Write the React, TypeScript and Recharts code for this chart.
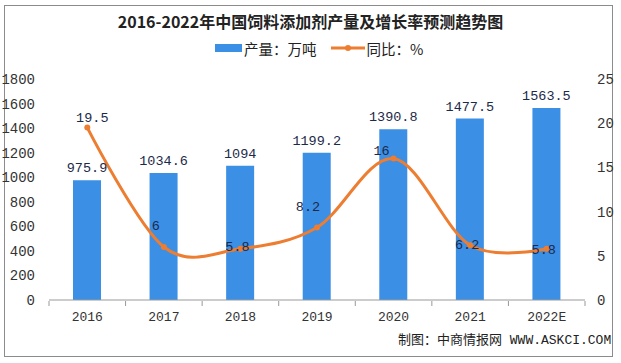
import React from "react";
import { ComposedChart, Bar, Line, XAxis, YAxis, LabelList } from "recharts";

const years = ["2016", "2017", "2018", "2019", "2020", "2021", "2022E"];
const output = [975.9, 1034.6, 1094, 1199.2, 1390.8, 1477.5, 1563.5];
const growth = [19.5, 6, 5.8, 8.2, 16, 6.2, 5.8];
const outputTicks = [0, 200, 400, 600, 800, 1000, 1200, 1400, 1600, 1800];
const growthTicks = [0, 5, 10, 15, 20, 25];

// small nudges for the growth labels, in px
const growthLabelShift = [
  [5, -9],
  [-8, -20],
  [-3, -1],
  [-9, -20],
  [-12, -7],
  [-3, 0],
  [-3, 2],
];

const data = years.map((year, i) => ({ year, output: output[i], growth: growth[i] }));

const numFont = "'Liberation Mono', 'Noto Sans CJK SC', monospace";
const cjkFont = "'Noto Sans CJK SC', sans-serif";

// excel-like smoothing (catmull-rom / cardinal with zero tension)
function smoothCurve(context: any) {
  const k = 1 / 6;
  let x0 = NaN, x1 = NaN, x2 = NaN, y0 = NaN, y1 = NaN, y2 = NaN;
  let pt = 0;
  let line = NaN;
  const seg = (x: number, y: number) => {
    context.bezierCurveTo(
      x1 + k * (x2 - x0),
      y1 + k * (y2 - y0),
      x2 + k * (x1 - x),
      y2 + k * (y1 - y),
      x2,
      y2
    );
  };
  return {
    areaStart() {
      line = 0;
    },
    areaEnd() {
      line = NaN;
    },
    lineStart() {
      x0 = x1 = x2 = y0 = y1 = y2 = NaN;
      pt = 0;
    },
    lineEnd() {
      if (pt === 2) context.lineTo(x2, y2);
      else if (pt === 3) seg(x1, y1);
      if (line || (line !== 0 && pt === 1)) context.closePath?.();
      line = 1 - line;
    },
    point(x: number, y: number) {
      x = +x;
      y = +y;
      switch (pt) {
        case 0:
          pt = 1;
          line ? context.lineTo(x, y) : context.moveTo(x, y);
          break;
        case 1:
          pt = 2;
          x1 = x;
          y1 = y;
          break;
        case 2:
          pt = 3;
          seg(x, y);
          break;
        default:
          seg(x, y);
          break;
      }
      x0 = x1; x1 = x2; x2 = x;
      y0 = y1; y1 = y2; y2 = y;
    },
  };
}

function GrowthLabel(props: any) {
  const { x, y, value, index } = props;
  const [dx, dy] = growthLabelShift[index] || [0, -10];
  return (
    <text
      x={x + dx}
      y={y + dy}
      textAnchor="middle"
      dominantBaseline="central"
      fill="#1c2a4a"
      fontSize={13.5}
      fontFamily={numFont}
    >
      {value}
    </text>
  );
}

// year label plus the small tick marks that sit between the categories
function YearTick(props: any) {
  const { x, y, payload, index } = props;
  const half = payload.offset || 0;
  const axisY = y - 11;
  return (
    <g>
      <line x1={x - half} y1={axisY} x2={x - half} y2={axisY + 5} stroke="#999" />
      {index === years.length - 1 && (
        <line x1={x + half} y1={axisY} x2={x + half} y2={axisY + 5} stroke="#999" />
      )}
      <text x={x} y={y} dy="0.71em" textAnchor="middle" fill="#333" fontSize={13} fontFamily={numFont}>
        {payload.value}
      </text>
    </g>
  );
}

export default function App() {
  return (
    <div style={{ position: "absolute", left: 0, top: 0, width: 621, height: 363, background: "#fff" }}>
      <div
        style={{
          position: "absolute",
          left: 4,
          top: 5,
          width: 609,
          height: 352,
          border: "1px solid #8c8c8c",
          boxSizing: "border-box",
        }}
      />
      <div
        style={{
          position: "absolute",
          left: 0,
          width: 621,
          top: 10,
          textAlign: "center",
          fontFamily: cjkFont,
          fontWeight: 700,
          fontSize: 16,
          color: "#222",
          lineHeight: "22px",
        }}
      >
        2016-2022年中国饲料添加剂产量及增长率预测趋势图
      </div>
      <div
        style={{
          position: "absolute",
          left: 215,
          top: 38,
          height: 20,
          display: "flex",
          alignItems: "center",
          fontFamily: cjkFont,
          fontSize: 14.5,
          color: "#222",
          whiteSpace: "nowrap",
        }}
      >
        <span style={{ display: "inline-block", width: 27, height: 8, background: "#3b8fe5", marginRight: 2 }} />
        <span>产量：万吨</span>
        <svg width={34} height={10} style={{ marginLeft: 14, marginRight: 2 }}>
          <line x1={0} y1={5} x2={34} y2={5} stroke="#ed7d31" strokeWidth={3} />
          <circle cx={17} cy={5} r={3} fill="#ed7d31" />
        </svg>
        <span>同比：%</span>
      </div>
      <div style={{ position: "absolute", left: 0, top: 0 }}>
        <ComposedChart width={621} height={363} data={data} margin={{ top: 79, right: 0, bottom: 33, left: 0 }}>
          <XAxis
            dataKey="year"
            height={30}
            axisLine={{ stroke: "#999" }}
            tickLine={false}
            tickSize={6}
            tickMargin={6}
            tick={<YearTick />}
            interval={0}
          />
          <YAxis
            yAxisId="left"
            domain={[0, 1800]}
            ticks={outputTicks}
            width={49}
            axisLine={false}
            tickLine={false}
            tickMargin={8}
            tick={{ fill: "#333", fontSize: 14, fontFamily: numFont }}
          />
          <YAxis
            yAxisId="right"
            orientation="right"
            domain={[0, 25]}
            ticks={growthTicks}
            width={36}
            axisLine={false}
            tickLine={false}
            tickMargin={6}
            tick={{ fill: "#333", fontSize: 14, fontFamily: numFont }}
          />
          <Bar yAxisId="left" dataKey="output" fill="#3b8fe5" barSize={28} isAnimationActive={false}>
            <LabelList
              dataKey="output"
              position="top"
              offset={8}
              fill="#1c2a4a"
              fontSize={13.5}
              fontFamily={numFont}
            />
          </Bar>
          <Line
            yAxisId="right"
            type={smoothCurve as any}
            dataKey="growth"
            stroke="#ed7d31"
            strokeWidth={3}
            dot={{ r: 3, fill: "#ed7d31", stroke: "none" }}
            isAnimationActive={false}
          >
            <LabelList dataKey="growth" content={GrowthLabel} />
          </Line>
        </ComposedChart>
      </div>
      <div
        style={{
          position: "absolute",
          left: 398,
          top: 332,
          fontFamily: numFont,
          fontSize: 13,
          color: "#222",
          whiteSpace: "nowrap",
          lineHeight: "18px",
        }}
      >
        制图：中商情报网 WWW.ASKCI.COM
      </div>
    </div>
  );
}
